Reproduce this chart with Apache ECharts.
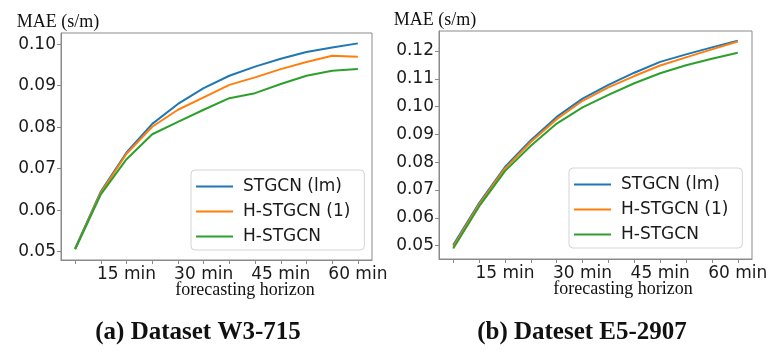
<!DOCTYPE html>
<html>
<head>
<meta charset="utf-8">
<script src="https://cdn.jsdelivr.net/npm/echarts@6/dist/echarts.min.js"></script>
<style>
  html, body { margin: 0; padding: 0; background: #fff; }
  #chart { width: 778px; height: 360px; }
</style>
</head>
<body>
<div id="chart"></div>
<script>
// ---- data ----
const horizonMinutes = [5, 10, 15, 20, 25, 30, 35, 40, 45, 50, 55, 60];
const seriesNames = ['STGCN (lm)', 'H-STGCN (1)', 'H-STGCN'];

// (a) Dataset W3-715
const w3_stgcnLm  = [0.0508, 0.0645, 0.0739, 0.0808, 0.0856, 0.0894, 0.0924, 0.0946, 0.0965, 0.0981, 0.0992, 0.1002];
const w3_hstgcn1  = [0.0506, 0.0642, 0.0736, 0.0801, 0.0842, 0.0872, 0.0902, 0.0920, 0.0940, 0.0957, 0.0972, 0.0970];
const w3_hstgcn   = [0.0506, 0.0638, 0.0723, 0.0783, 0.0813, 0.0842, 0.0870, 0.0882, 0.0904, 0.0924, 0.0936, 0.0940];

// (b) Dateset E5-2907
const e5_stgcnLm  = [0.0502, 0.0653, 0.0783, 0.0879, 0.0963, 0.1029, 0.1078, 0.1122, 0.1161, 0.1188, 0.1213, 0.1237];
const e5_hstgcn1  = [0.0496, 0.0648, 0.0777, 0.0873, 0.0955, 0.1021, 0.1069, 0.1110, 0.1148, 0.1177, 0.1206, 0.1234];
const e5_hstgcn   = [0.0490, 0.0641, 0.0768, 0.0859, 0.0939, 0.0997, 0.1042, 0.1084, 0.1120, 0.1149, 0.1172, 0.1194];

// tick labels
const xLabelMinutes = [15, 30, 45, 60];
const yTicksA = [0.05, 0.06, 0.07, 0.08, 0.09, 0.10];
const yTicksB = [0.05, 0.06, 0.07, 0.08, 0.09, 0.10, 0.11, 0.12];

const yAxisTitle = 'MAE (s/m)';
const xAxisTitle = 'forecasting horizon';
const captionA = '(a) Dataset W3-715';
const captionB = '(b) Dateset E5-2907';

// ---- styles ----
const colors = ['#1f77b4', '#ff7f0e', '#2ca02c'];
const frameColor = '#8a8a8a';
const tickFont = 'DejaVu Sans';
const serifFont = 'Liberation Serif';

function zip(ys) { return horizonMinutes.map((x, i) => [x, ys[i]]); }

function xAxisCfg(gridIndex) {
  return {
    type: 'value', gridIndex, min: 2.25, max: 62.75,
    axisLine: { show: true, onZero: false, lineStyle: { color: frameColor, width: 1 } },
    axisTick: { show: true, customValues: horizonMinutes, length: 4, lineStyle: { color: frameColor } },
    axisLabel: { customValues: xLabelMinutes, formatter: v => Math.round(v) + ' min',
      fontFamily: tickFont, fontSize: 17, color: '#1a1a1a', margin: 6 },
    splitLine: { show: false }
  };
}
function yAxisCfg(gridIndex, min, max, ticks) {
  return {
    type: 'value', gridIndex, min, max,
    axisLine: { show: true, lineStyle: { color: frameColor, width: 1 } },
    axisTick: { show: true, customValues: ticks, length: 4, lineStyle: { color: frameColor } },
    axisLabel: { customValues: ticks, formatter: v => v.toFixed(2),
      fontFamily: tickFont, fontSize: 17, color: '#1a1a1a', margin: 5 },
    splitLine: { show: false }
  };
}
function lineSeries(name, ys, idx, gridIdx) {
  return {
    type: 'line', name, data: zip(ys), xAxisIndex: gridIdx, yAxisIndex: gridIdx,
    symbol: 'none', smooth: false, animation: false,
    lineStyle: { color: colors[idx], width: 2 }, itemStyle: { color: colors[idx] }
  };
}
function legendCfg(left, top) {
  return {
    orient: 'vertical', left, top, data: seriesNames,
    icon: 'rect', itemWidth: 37, itemHeight: 2, itemGap: 8,
    backgroundColor: 'rgba(255,255,255,0.8)', borderColor: '#d4d4d4', borderWidth: 1, borderRadius: 4,
    padding: [8, 14, 5, 5],
    textStyle: { fontFamily: tickFont, fontSize: 17, color: '#1a1a1a', lineHeight: 17, padding: [0, 0, 0, 5] },
    selectedMode: false
  };
}
function textEl(x, y, text, font, size, weight) {
  return { type: 'text', x, y, style: { text, fontFamily: font, fontSize: size, fontWeight: weight || 'normal',
    fill: '#111', align: 'center', verticalAlign: 'middle' } };
}

const chart = echarts.init(document.getElementById('chart'), null, { renderer: 'canvas' });
chart.setOption({
  animation: false,
  backgroundColor: '#fff',
  grid: [
    { left: 61, top: 33, width: 311, height: 227, show: true, borderColor: frameColor, borderWidth: 1, containLabel: false },
    { left: 439, top: 31, width: 313, height: 228, show: true, borderColor: frameColor, borderWidth: 1, containLabel: false }
  ],
  xAxis: [xAxisCfg(0), xAxisCfg(1)],
  yAxis: [yAxisCfg(0, 0.048, 0.1027, yTicksA), yAxisCfg(1, 0.0452, 0.1272, yTicksB)],
  legend: [legendCfg(191, 170), legendCfg(569, 168)],
  series: [
    lineSeries(seriesNames[0], w3_stgcnLm, 0, 0),
    lineSeries(seriesNames[1], w3_hstgcn1, 1, 0),
    lineSeries(seriesNames[2], w3_hstgcn, 2, 0),
    lineSeries(seriesNames[0], e5_stgcnLm, 0, 1),
    lineSeries(seriesNames[1], e5_hstgcn1, 1, 1),
    lineSeries(seriesNames[2], e5_hstgcn, 2, 1)
  ],
  graphic: [
    textEl(58, 22, yAxisTitle, serifFont, 18),
    textEl(435, 20, yAxisTitle, serifFont, 18),
    textEl(245, 290, xAxisTitle, serifFont, 18),
    textEl(623, 289, xAxisTitle, serifFont, 18),
    textEl(198, 333, captionA, serifFont, 25, 'bold'),
    textEl(582, 333, captionB, serifFont, 25, 'bold')
  ]
});
</script>
</body>
</html>
